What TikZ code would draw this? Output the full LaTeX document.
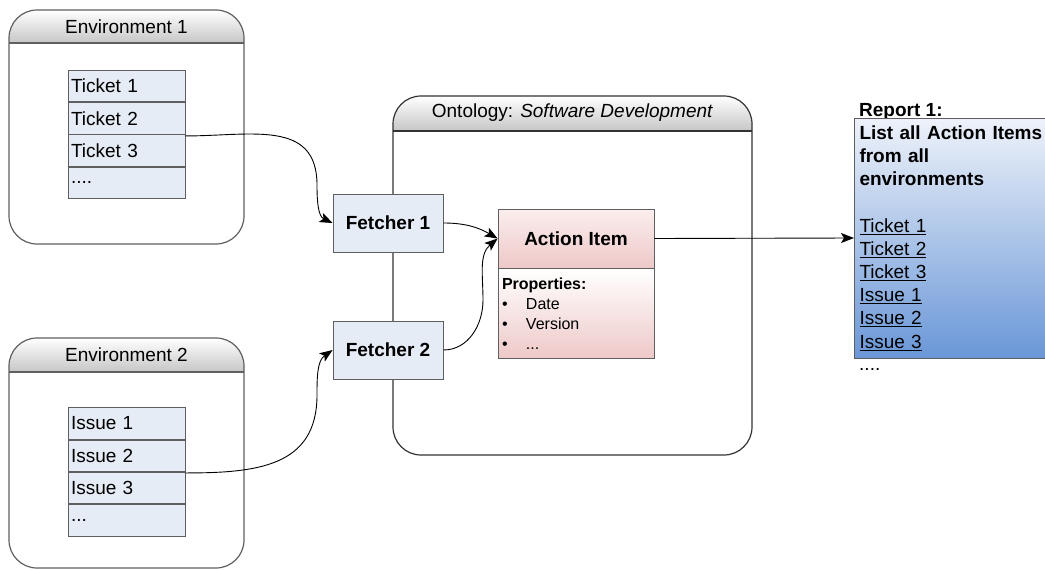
\documentclass[tikz,border=0pt]{standalone}
\usepackage{fontspec}
\setmainfont{Liberation Sans}
\usetikzlibrary{positioning,arrows.meta}

\definecolor{rowblue}{HTML}{E6ECF6}
\definecolor{framegray}{HTML}{5F5F5F}
\definecolor{headgray}{HTML}{C6C6C6}
\definecolor{itemtop}{HTML}{FBEEEE}
\definecolor{itembot}{HTML}{EEC8C8}
\definecolor{reptop}{HTML}{EEF2FA}
\definecolor{repbot}{HTML}{6A97D7}

\tikzset{
  frame/.style={draw=framegray, line width=1.2pt, rounded corners=28pt},
  head/.style={top color=white, bottom color=headgray},
  row/.style={draw=framegray, fill=rowblue, line width=0.8pt, minimum height=31.5pt,
    text width=111pt, inner sep=3pt, align=left, font=\fontsize{19}{23}\selectfont},
  fetcher/.style={draw=framegray, fill=rowblue, line width=0.8pt, minimum width=110pt,
    minimum height=58pt, font=\fontsize{19}{23}\selectfont\bfseries},
  conn/.style={-{Stealth[length=13pt,width=10pt,inset=3pt]}, line width=0.9pt},
}

\begin{document}
\begin{tikzpicture}[x=1pt, y=1pt, font=\fontsize{19}{23}\selectfont]
  \useasboundingbox (0,0) rectangle (1045,-570);

  % environment 1
  \shade[head] (9,-43) -- (9,-38) arc[start angle=180, end angle=90, radius=28]
    -- (216,-10) arc[start angle=90, end angle=0, radius=28] -- (244,-43) -- cycle;
  \draw[frame] (9,-10) rectangle (244,-244);
  \draw[framegray, line width=1.2pt] (9,-43) -- (244,-43);
  \node (env1) at (126.5,-26.5) {Environment 1};
  \node[row] (t1) at (126.5,-86) {Ticket 1};
  \node[row, below=0pt of t1] (t2) {Ticket 2};
  \node[row, below=0pt of t2] (t3) {Ticket 3};
  \node[row, below=0pt of t3] (t4) {....};

  % environment 2
  \shade[head] (9,-372) -- (9,-366) arc[start angle=180, end angle=90, radius=28]
    -- (216,-338) arc[start angle=90, end angle=0, radius=28] -- (244,-372) -- cycle;
  \draw[frame] (9,-338) rectangle (244,-568);
  \draw[framegray, line width=1.2pt] (9,-372) -- (244,-372);
  \node (env2) at (126.5,-354.5) {Environment 2};
  \node[row] (i1) at (126.5,-423.5) {Issue 1};
  \node[row, below=0pt of i1] (i2) {Issue 2};
  \node[row, below=0pt of i2] (i3) {Issue 3};
  \node[row, below=0pt of i3] (i4) {...};

  % ontology
  \shade[head] (393,-131) -- (393,-124) arc[start angle=180, end angle=90, radius=28]
    -- (724,-96) arc[start angle=90, end angle=0, radius=28] -- (752,-131) -- cycle;
  \draw[frame, draw=black!80] (393,-96) rectangle (752,-455);
  \draw[black!80, line width=1.2pt] (393,-131) -- (752,-131);
  \node (onto) at (572.5,-113) {Ontology: \textit{Software Development}};

  \node[fetcher] (f1) at (388,-223) {Fetcher 1};
  \node[fetcher] (f2) at (388,-350) {Fetcher 2};

  \node[draw=framegray, line width=0.8pt, top color=itemtop, bottom color=itembot,
    minimum width=156pt, minimum height=59pt, font=\fontsize{19}{23}\selectfont\bfseries]
    (ai) at (576,-238.5) {Action Item};
  \node[draw=framegray, line width=0.8pt, top color=white, bottom color=itembot,
    minimum height=90pt, text width=148pt, inner sep=4pt, align=left,
    font=\fontsize{16}{20}\selectfont, below=0pt of ai] (props)
    {\textbf{Properties:}\\
     \makebox[24pt][l]{\textbullet}Date\\
     \makebox[24pt][l]{\textbullet}Version\\
     \makebox[24pt][l]{\textbullet}...};

  % report
  \node[anchor=base west, inner sep=0pt, font=\fontsize{19}{23}\selectfont\bfseries]
    (rtitle) at (859,-116) {Report 1:};
  \node[draw=framegray, line width=1pt, top color=reptop, bottom color=repbot,
    minimum height=240pt, text width=186pt, inner sep=5pt, align=left,
    font=\fontsize{19}{23.2}\selectfont, anchor=west] (rep) at (854,-238)
    {\textbf{List all Action Items}\\
     \textbf{from all}\\
     \textbf{environments}\\[23.2pt]
     \underline{Ticket 1}\\
     \underline{Ticket 2}\\
     \underline{Ticket 3}\\
     \underline{Issue 1}\\
     \underline{Issue 2}\\
     \underline{Issue 3}};
  \node[anchor=base west, inner sep=0pt] (rdots) at (859,-370) {....};

  % connectors
  \coordinate (k1) at (317,-185);
  \coordinate (k2) at (317,-395);
  \coordinate (k3) at (483,-300);
  \draw[conn] ([yshift=-1.5pt]t3.north east) to[out=0,in=90,looseness=1.2] (k1)
    to[out=-90,in=155] (f1.west);
  \draw[conn] ([yshift=-1pt]i3.north east) to[out=0,in=-90,looseness=1.2] (k2)
    to[out=90,in=215] (f2.west);
  \draw[conn] (f1.east) to[out=0,in=150] (ai.west);
  \draw[conn] (f2.east) to[out=0,in=-90] (k3) to[out=90,in=220] (ai.west);
  \draw[conn] (ai.east) -- (rep.west);
\end{tikzpicture}
\end{document}
